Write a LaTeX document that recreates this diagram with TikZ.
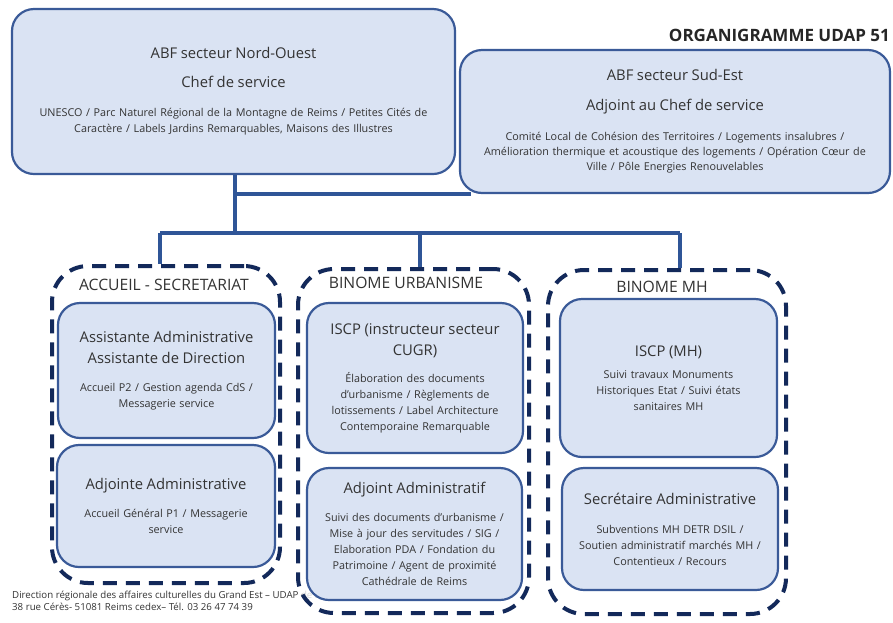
\documentclass[tikz,border=0pt]{standalone}
\usepackage{fontspec}
\setmainfont{Open Sans}
\definecolor{boxfill}{HTML}{DAE3F3}
\definecolor{boxline}{HTML}{3A5A98}
\definecolor{linkblue}{HTML}{2F5597}
\definecolor{groupline}{HTML}{13295A}
\definecolor{txtgrey}{HTML}{333333}
\newcommand{\bigtxt}{\fontsize{14.8}{16}\selectfont}
\newcommand{\smalltxt}{\fontsize{10.8}{16}\selectfont}
\tikzset{
  post/.style={draw=boxline, line width=2.2pt, fill=boxfill, rounded corners=22pt,
    align=center, inner sep=0pt, text=txtgrey, font=\smalltxt},
  team/.style={draw=groupline, line width=4pt, dash pattern=on 14pt off 9pt,
    rounded corners=36pt, fill=white, fill opacity=0.8, inner sep=0pt},
  teamlabel/.style={font=\fontsize{15.7}{18}\selectfont, text=txtgrey, inner sep=0pt},
  link/.style={draw=linkblue, line width=4pt}
}
\begin{document}
\begin{tikzpicture}[x=1pt, y=-1pt]
\useasboundingbox (0,0) rectangle (893,622);

% Footer
\node[anchor=base west, font=\fontsize{9.7}{11}\selectfont, text=txtgrey, inner sep=0pt] (pied1) at (12,598) {Direction régionale des affaires culturelles du Grand Est -- UDAP de la Marne};
\node[anchor=base west, font=\fontsize{9.7}{11}\selectfont, text=txtgrey, inner sep=0pt] (pied2) at (12,610) {38 rue Cérès- 51081 Reims cedex-- Tél. 03 26 47 74 39};

% Teams (dashed frames)
\node[team, minimum width=228pt, minimum height=317pt] (accueil) at (166,424.5) {};
\node[team, minimum width=231pt, minimum height=344pt] (urba) at (413.5,441) {};
\node[team, minimum width=238pt, minimum height=344pt] (mh) at (667,442) {};
\node[teamlabel] (accueiltitle) at (164,285) {ACCUEIL - SECRETARIAT};
\node[teamlabel] (urbatitle) at (406,283) {BINOME URBANISME};
\node[teamlabel] (mhtitle) at (662,287) {BINOME MH};

% Heads
\node[post, text width=443pt, minimum height=165pt] (nordouest) at (233.5,91.5)
  {\bigtxt ABF secteur Nord-Ouest\\[13pt] Chef de service\\[13pt]
   \smalltxt UNESCO / Parc Naturel Régional de la Montagne de Reims / Petites Cités de\\
   Caractère / Labels Jardins Remarquables, Maisons des Illustres};
\node[post, text width=430pt, minimum height=143pt] (sudest) at (675,121.5)
  {\bigtxt ABF secteur Sud-Est\\[14pt] Adjoint au Chef de service\\[14pt]
   \smalltxt Comité Local de Cohésion des Territoires / Logements insalubres /\\[-1pt]
   Amélioration thermique et acoustique des logements / Opération Cœur de\\[-1pt]
   Ville / Pôle Energies Renouvelables};
\node[anchor=east, font=\bfseries\fontsize{17}{19}\selectfont, text=black!85, inner sep=0pt] (organi) at (890,35) {ORGANIGRAMME UDAP 51};

% Links
\coordinate (bus) at (235,233);
\coordinate (d1) at (160,233);
\coordinate (d2) at (420,233);
\coordinate (d3) at (680,233);
\draw[link] (nordouest.south -| bus) -- (bus);
\draw[link] (bus |- sudest.south) -- ([xshift=12pt]sudest.south west);
\draw[link] (d1) -- (d3);
\draw[link] (d1) -- (d1 |- accueil.north);
\draw[link] (d2) -- (d2 |- urba.north);
\draw[link] (d3) -- (d3 |- mh.north);

% Accueil - secretariat
\node[post, text width=217pt, minimum height=135pt] (assistante) at (166.5,370.5)
  {\bigtxt Assistante Administrative\\[5pt] Assistante de Direction\\[12pt]
   \smalltxt Accueil P2 / Gestion agenda CdS /\\ Messagerie service};
\node[post, text width=218pt, minimum height=122pt] (adjointe) at (166,506)
  {\bigtxt Adjointe Administrative\\[12pt]
   \smalltxt Accueil Général P1 / Messagerie\\ service};

% Binome urbanisme
\node[post, text width=216pt, minimum height=150pt] (iscpurba) at (415,378)
  {\bigtxt ISCP (instructeur secteur\\[5pt] CUGR)\\[11pt]
   \smalltxt Élaboration des documents\\ d’urbanisme / Règlements de\\
   lotissements / Label Architecture\\ Contemporaine Remarquable};
\node[post, text width=215pt, minimum height=132pt] (adjoint) at (414.5,534)
  {\bigtxt Adjoint Administratif\\[12pt]
   \smalltxt Suivi des documents d’urbanisme /\\ Mise à jour des servitudes / SIG /\\
   Elaboration PDA / Fondation du\\ Patrimoine / Agent de proximité\\ Cathédrale de Reims};

% Binome MH
\node[post, text width=217pt, minimum height=158pt] (iscpmh) at (668.5,378)
  {\bigtxt ISCP (MH)\\[6pt]
   \smalltxt Suivi travaux Monuments\\ Historiques Etat / Suivi états\\ sanitaires MH};
\node[post, text width=216pt, minimum height=122pt] (secretaire) at (670,529)
  {\bigtxt Secrétaire Administrative\\[13pt]
   \smalltxt Subventions MH DETR DSIL /\\ Soutien administratif marchés MH /\\ Contentieux / Recours};
\end{tikzpicture}
\end{document}
